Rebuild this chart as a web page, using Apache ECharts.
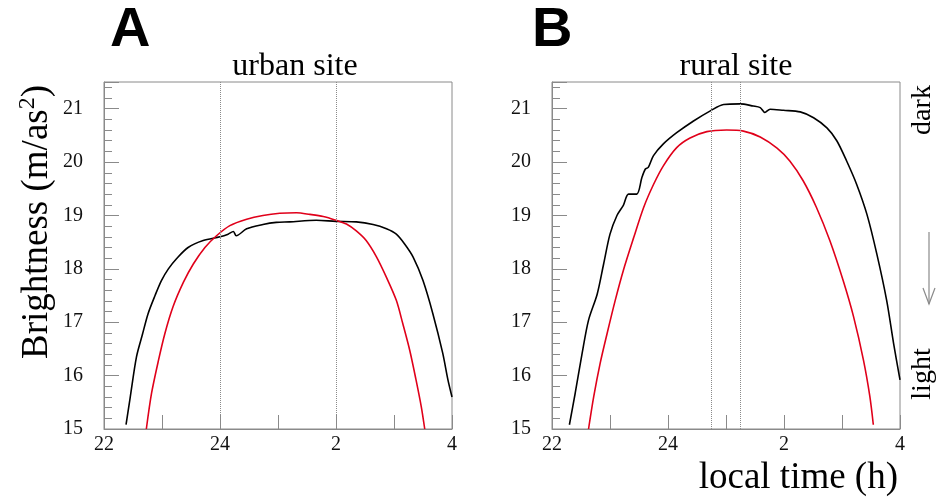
<!DOCTYPE html>
<html>
<head>
<meta charset="utf-8">
<script src="https://cdn.jsdelivr.net/npm/echarts@6/dist/echarts.min.js"></script>
<style>
html,body{margin:0;padding:0;background:#fff;}
#chart{width:936px;height:501px;}
</style>
</head>
<body>
<div id="chart"></div>
<script>
// ---- Data (local time in hours; 24 = midnight, 26 = 2 h, 28 = 4 h) ----
const urbanBlackTime = [22.38,22.45,22.56,22.66,22.76,22.88,22.99,23.11,23.25,23.45,23.71,24.0,24.14,24.23,24.28,24.46,24.74,24.97,25.2,25.66,26.0,26.35,26.64,26.87,27.04,27.18,27.33,27.5,27.67,27.84,27.93,28.0];
const urbanBlackValue = [15.08,15.58,16.35,16.76,17.16,17.5,17.78,18.0,18.19,18.4,18.53,18.6,18.65,18.7,18.62,18.75,18.83,18.87,18.88,18.91,18.89,18.88,18.83,18.75,18.65,18.47,18.22,17.78,17.16,16.42,15.92,15.6];

const urbanRedTime = [22.73,22.82,22.94,23.05,23.19,23.37,23.54,23.74,23.94,24.17,24.46,24.74,25.03,25.32,25.55,25.78,26.0,26.18,26.35,26.52,26.7,26.87,27.04,27.15,27.27,27.38,27.47,27.53];
const urbanRedValue = [15.0,15.67,16.29,16.79,17.29,17.75,18.09,18.4,18.62,18.81,18.93,19.0,19.04,19.05,19.02,18.98,18.91,18.84,18.71,18.53,18.22,17.84,17.41,16.98,16.48,15.92,15.42,15.0];

const ruralBlackTime = [22.3,22.4,22.52,22.63,22.78,22.89,23.0,23.12,23.23,23.32,23.46,23.55,23.61,23.66,23.75,23.92,24.15,24.44,24.73,24.96,25.24,25.47,25.59,25.67,25.76,25.99,26.28,26.51,26.74,26.91,27.08,27.25,27.43,27.6,27.77,27.89,28.0];
const ruralBlackValue = [15.08,15.67,16.42,17.04,17.53,18.09,18.65,19.0,19.19,19.4,19.4,19.71,19.87,19.9,20.12,20.34,20.55,20.77,20.96,21.08,21.09,21.05,21.02,20.93,20.99,20.97,20.94,20.83,20.64,20.4,20.02,19.59,19.02,18.28,17.41,16.6,15.92];

const ruralRedTime = [22.63,22.72,22.83,22.95,23.09,23.23,23.41,23.58,23.75,23.92,24.15,24.38,24.67,25.01,25.3,25.59,25.88,26.1,26.33,26.56,26.79,27.02,27.2,27.37,27.48,27.54];
const ruralRedValue = [15.0,15.61,16.23,16.79,17.41,17.97,18.59,19.15,19.58,19.93,20.27,20.45,20.57,20.6,20.58,20.47,20.26,20.02,19.65,19.15,18.53,17.78,17.1,16.29,15.61,15.08];

const urbanMarks = [24, 26];
const ruralMarks = [24.75, 25.25];

const xTickLabels = {22: '22', 24: '24', 26: '2', 28: '4'};
const panelTitles = ['urban site', 'rural site'];
const panelLetters = ['A', 'B'];

// ---- Helpers ----
function zip(xs, ys) { return xs.map((x, i) => [x, ys[i]]); }
const GRAY = '#8a8a8a';
const SERIF = '"Liberation Serif", "DejaVu Serif", serif';

function xAxisFor(gi) {
  return {
    type: 'value', gridIndex: gi, min: 22, max: 28, interval: 1,
    axisLine: {show: true, lineStyle: {color: GRAY, width: 1}},
    axisTick: {show: true, inside: true, length: 14, lineStyle: {color: GRAY}},
    splitLine: {show: false},
    axisLabel: {
      margin: 6, color: '#111', fontFamily: SERIF, fontSize: 20,
      showMinLabel: true, showMaxLabel: true,
      formatter: v => (xTickLabels[Math.round(v)] !== undefined && Math.abs(v - Math.round(v)) < 1e-6) ? xTickLabels[Math.round(v)] : ''
    }
  };
}
function yAxisFor(gi) {
  return {
    type: 'value', gridIndex: gi, min: 15, max: 21.5, interval: 1,
    axisLine: {show: true, lineStyle: {color: GRAY, width: 1}},
    axisTick: {show: true, inside: true, length: 15, lineStyle: {color: GRAY}},
    minorTick: {show: true, splitNumber: 5, length: 8, lineStyle: {color: GRAY}},
    splitLine: {show: false},
    axisLabel: {
      margin: 21, color: '#111', fontFamily: SERIF, fontSize: 20,
      formatter: v => (Math.abs(v - Math.round(v)) < 1e-6) ? String(Math.round(v)) : ''
    }
  };
}
function markLinesFor(marks) {
  return {
    silent: true, symbol: 'none', label: {show: false},
    lineStyle: {color: GRAY, type: 'dotted', width: 1},
    data: marks.map(m => ({xAxis: m}))
  };
}
function curve(name, gi, data, color, marks) {
  const s = {
    name: name, type: 'line', xAxisIndex: gi, yAxisIndex: gi,
    data: data, showSymbol: false, smooth: 0.3,
    lineStyle: {color: color, width: 1.6}, itemStyle: {color: color},
    z: 3
  };
  if (marks) s.markLine = markLinesFor(marks);
  return s;
}

const chart = echarts.init(document.getElementById('chart'), null, {renderer: 'canvas'});
chart.setOption({
  backgroundColor: '#fff',
  animation: false,
  grid: [
    {left: 104, top: 82, width: 348, height: 347, show: true, borderColor: GRAY, borderWidth: 1, backgroundColor: 'transparent'},
    {left: 552, top: 82, width: 348, height: 347, show: true, borderColor: GRAY, borderWidth: 1, backgroundColor: 'transparent'}
  ],
  xAxis: [xAxisFor(0), xAxisFor(1)],
  yAxis: [yAxisFor(0), yAxisFor(1)],
  series: [
    curve('urban black', 0, zip(urbanBlackTime, urbanBlackValue), '#000', urbanMarks),
    curve('urban red', 0, zip(urbanRedTime, urbanRedValue), '#e0001a', null),
    curve('rural black', 1, zip(ruralBlackTime, ruralBlackValue), '#000', ruralMarks),
    curve('rural red', 1, zip(ruralRedTime, ruralRedValue), '#e0001a', null)
  ],
  graphic: [
    {type: 'text', left: 110, top: 3, style: {text: panelLetters[0], font: 'bold 56px "Liberation Sans", Arial, sans-serif', fill: '#000'}},
    {type: 'text', left: 532, top: 3, style: {text: panelLetters[1], font: 'bold 56px "Liberation Sans", Arial, sans-serif', fill: '#000'}},
    {type: 'text', x: 295, y: 67, style: {text: panelTitles[0], font: '32px ' + SERIF, fill: '#000', align: 'center', verticalAlign: 'middle'}},
    {type: 'text', x: 736, y: 67, style: {text: panelTitles[1], font: '32px ' + SERIF, fill: '#000', align: 'center', verticalAlign: 'middle'}},
    {type: 'text', x: 898, y: 478, style: {text: 'local time (h)', font: '37px ' + SERIF, fill: '#000', align: 'right', verticalAlign: 'middle'}},
    {type: 'text', x: 36, y: 222, rotation: Math.PI / 2,
      style: {
        text: '{a|Brightness (m/as}{s|2}{a|)}', align: 'center', verticalAlign: 'middle', fill: '#000',
        rich: {
          a: {fontFamily: SERIF, fontSize: 37, lineHeight: 40, verticalAlign: 'bottom', fill: '#000'},
          s: {fontFamily: SERIF, fontSize: 24, lineHeight: 40, verticalAlign: 'top', fill: '#000'}
        }
      }},
    {type: 'text', x: 923, y: 110, rotation: Math.PI / 2, style: {text: 'dark', font: '28px ' + SERIF, fill: '#000', align: 'center', verticalAlign: 'middle'}},
    {type: 'text', x: 923, y: 374, rotation: Math.PI / 2, style: {text: 'light', font: '28px ' + SERIF, fill: '#000', align: 'center', verticalAlign: 'middle'}},
    {type: 'line', shape: {x1: 929, y1: 232, x2: 929, y2: 304}, style: {stroke: GRAY, lineWidth: 1.2}},
    {type: 'polyline', shape: {points: [[923, 288], [929, 304], [935, 288]]}, style: {stroke: GRAY, lineWidth: 1.2, fill: null}}
  ]
});
</script>
</body>
</html>
